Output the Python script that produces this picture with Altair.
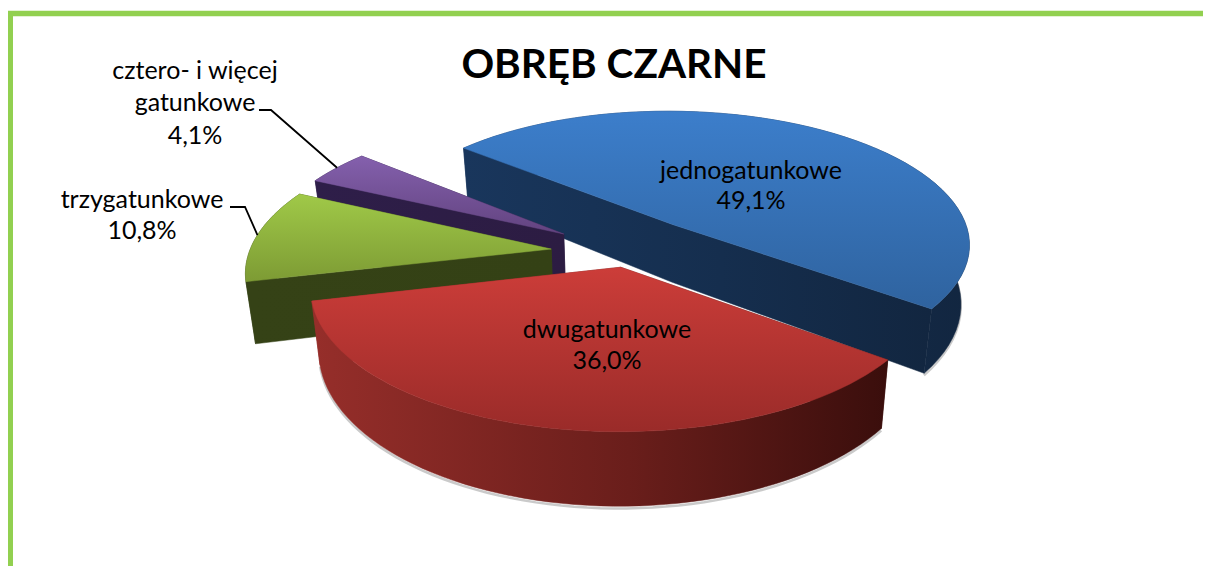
import math
import altair as alt
import pandas as pd

# ---- data -------------------------------------------------------------
categories = ["jednogatunkowe", "dwugatunkowe", "trzygatunkowe", "cztero- i więcej gatunkowe"]
shares = [49.1, 36.0, 10.8, 4.1]
title_text = "OBRĘB CZARNE"

# ---- 3D pie styling ---------------------------------------------------
W, H = 1195, 558
CX, CY = 632, 243
A, B = 299, 134
P = 0.14
DEPTH = 59
TAPER = 0.025
START = -139.8
explode = [(0.222, 0.18), (0.18, 0.18), (0.27, -0.43), (0.274, 0.125)]
top_cols = [("#3c7ecb", "#2f639f"), ("#cc3d39", "#9a2b29"), ("#a0c948", "#7d9b34"), ("#8460ad", "#62437f")]
wall_cols = [("#19365c", "#122640"), ("#962e2a", "#3a0e0c"), ("#354216", "#333f15"), ("#2e1e49", "#2a1a3c")]
wall_mid = ["#152e4e", "#6a1e1b", "#344115", "#2c1c42"]
SHADOW = "#b4b4b4"
DRAW_ORDER = [0, 3, 2, 1]


def project(X, Y, z=0.0):
    w = 1.0 / (1.0 - P * Y)
    return (CX + A * X * w * (1 - TAPER * z), CY + B * Y * w + DEPTH * w ** 1.3 * z)


def rim(a0, a1, n=60):
    return [(math.cos(math.radians(a0 + (a1 - a0) * i / n)), math.sin(math.radians(a0 + (a1 - a0) * i / n)))
            for i in range(n + 1)]


def face(points):
    return pd.DataFrame([{"i": i, "x": px, "y": py} for i, (px, py) in enumerate(points)])


xs = alt.Scale(domain=[8, 8 + W], range=[0, W], nice=False, zero=False)
ys = alt.Scale(domain=[8, 8 + H], range=[0, H], nice=False, zero=False)


def poly_layer(points, c0, c1, horizontal=False, mid_color=None):
    stops = [alt.GradientStop(color=c0, offset=0)]
    if mid_color:
        stops.append(alt.GradientStop(color=mid_color, offset=0.55))
    stops.append(alt.GradientStop(color=c1, offset=1))
    grad = alt.Gradient(
        gradient="linear",
        x1=0, y1=0, x2=1 if horizontal else 0, y2=0 if horizontal else 1,
        stops=stops,
    )
    return alt.Chart(face(points)).mark_line(fill=grad, stroke=grad, strokeWidth=0.5, interpolate="linear-closed").encode(
        x=alt.X("x:Q", scale=xs, axis=None),
        y=alt.Y("y:Q", scale=ys, axis=None),
        order="i:Q",
    )


# slice angle ranges come from the shares
angles = []
a = START
for s in shares:
    angles.append((a, a + s * 3.6))
    a += s * 3.6

layers = []
for idx in DRAW_ORDER:
    a0, a1 = angles[idx]
    mid = math.radians((a0 + a1) / 2)
    ex, ey = explode[idx]
    ox, oy = ex * math.cos(mid), ey * math.sin(mid)
    arc = [(ox + c, oy + s) for c, s in rim(a0, a1)]
    apex = (ox, oy)
    centre_arc = arc[len(arc) // 2]

    def radial_wall(end):
        pts = [project(*apex), project(*end), project(*end, 1), project(*apex, 1)]
        if end[0] < apex[0]:
            return poly_layer(pts, wall_cols[idx][0], wall_mid[idx], True)
        return poly_layer(pts, wall_mid[idx], wall_cols[idx][1], True)

    def faces_viewer(end):
        # the wall shows when the slice lies behind the edge, on the far side
        dx, dy = end[0] - apex[0], end[1] - apex[1]
        nx, ny = -dy, dx
        if ny < 0:
            nx, ny = -nx, -ny
        return (centre_arc[0] - apex[0]) * nx + (centre_arc[1] - apex[1]) * ny < 0

    # soft shadow under the outer wall of the two big slices
    if idx in (0, 1):
        front = [p for p in arc if p[1] > -0.25]
        layers.append(alt.Chart(face([project(*p, 1.03) for p in front])).mark_line(color=SHADOW, strokeWidth=2.5, opacity=0.7).encode(
            x=alt.X("x:Q", scale=xs, axis=None), y=alt.Y("y:Q", scale=ys, axis=None), order="i:Q"))

    ends = (arc[0], arc[-1])
    for end in ends:
        if not faces_viewer(end):
            layers.append(radial_wall(end))
    # outer wall
    pts = [project(*p) for p in arc] + [project(*p, 1) for p in reversed(arc)]
    layers.append(poly_layer(pts, wall_cols[idx][0], wall_cols[idx][1], True, wall_mid[idx]))
    if all(faces_viewer(end) for end in ends):
        # both edges face the viewer: one wall, shaded straight across
        chain = [arc[0], apex, arc[-1]]
        pts = [project(*p) for p in chain] + [project(*p, 1) for p in reversed(chain)]
        layers.append(poly_layer(pts, wall_cols[idx][0], wall_cols[idx][1], True, wall_mid[idx]))
    else:
        for end in ends:
            if faces_viewer(end):
                layers.append(radial_wall(end))
    # top
    pts = [project(*apex)] + [project(*p) for p in arc]
    layers.append(poly_layer(pts, top_cols[idx][0], top_cols[idx][1]))

# frame
frame_color = "#92d050"
frame_h = alt.Chart(pd.DataFrame({"x": [7], "x2": [8 + W], "y": [13.5]})).mark_rule(color=frame_color, strokeWidth=5.5).encode(
    x=alt.X("x:Q", scale=xs, axis=None), x2="x2:Q", y=alt.Y("y:Q", scale=ys, axis=None))
frame_v = alt.Chart(pd.DataFrame({"x": [10], "y": [11], "y2": [8 + H]})).mark_rule(color=frame_color, strokeWidth=6).encode(
    x=alt.X("x:Q", scale=xs, axis=None), y=alt.Y("y:Q", scale=ys, axis=None), y2="y2:Q")


# leader lines (end on the rim of the slice they belong to)
def rim_point(idx, frac):
    a0, a1 = angles[idx]
    mid = math.radians((a0 + a1) / 2)
    ex, ey = explode[idx]
    t = math.radians(a0 + (a1 - a0) * frac)
    return project(ex * math.cos(mid) + math.cos(t), ey * math.sin(mid) + math.sin(t))


leaders = [
    [(230, 207), (245, 207), rim_point(2, 0.5)],
    [(259, 110), (271, 110), rim_point(3, 0.5)],
]
for pts in leaders:
    layers.append(alt.Chart(face(pts)).mark_line(color="#000000", strokeWidth=1.8).encode(
        x=alt.X("x:Q", scale=xs, axis=None), y=alt.Y("y:Q", scale=ys, axis=None), order="i:Q"))

# labels
pct = [f"{s:.1f}%".replace(".", ",") for s in shares]
labels = pd.DataFrame([
    {"x": 751, "y": 171, "t": categories[0]},
    {"x": 751, "y": 201, "t": pct[0]},
    {"x": 607, "y": 330, "t": categories[1]},
    {"x": 607, "y": 361, "t": pct[1]},
    {"x": 142, "y": 200, "t": categories[2]},
    {"x": 142, "y": 231, "t": pct[2]},
    {"x": 195, "y": 71, "t": "cztero- i więcej"},
    {"x": 195, "y": 103, "t": "gatunkowe"},
    {"x": 195, "y": 136, "t": pct[3]},
])
label_layer = alt.Chart(labels).mark_text(font="Lato", fontSize=25, color="#000000", align="center", baseline="middle").encode(
    x=alt.X("x:Q", scale=xs, axis=None), y=alt.Y("y:Q", scale=ys, axis=None), text="t:N")
title_layer = alt.Chart(pd.DataFrame({"x": [614], "y": [66], "t": [title_text]})).mark_text(
    font="Lato", fontSize=40.5, fontWeight="bold", color="#000000", align="center", baseline="middle").encode(
    x=alt.X("x:Q", scale=xs, axis=None), y=alt.Y("y:Q", scale=ys, axis=None), text="t:N")

chart = alt.layer(frame_h, frame_v, *layers, label_layer, title_layer).properties(
    width=W, height=H, padding=0, autosize=alt.AutoSizeParams(type="none"), background="#ffffff"
).configure_view(stroke=None)

chart.save("out.html", embed_options={"renderer": "svg", "actions": False})
